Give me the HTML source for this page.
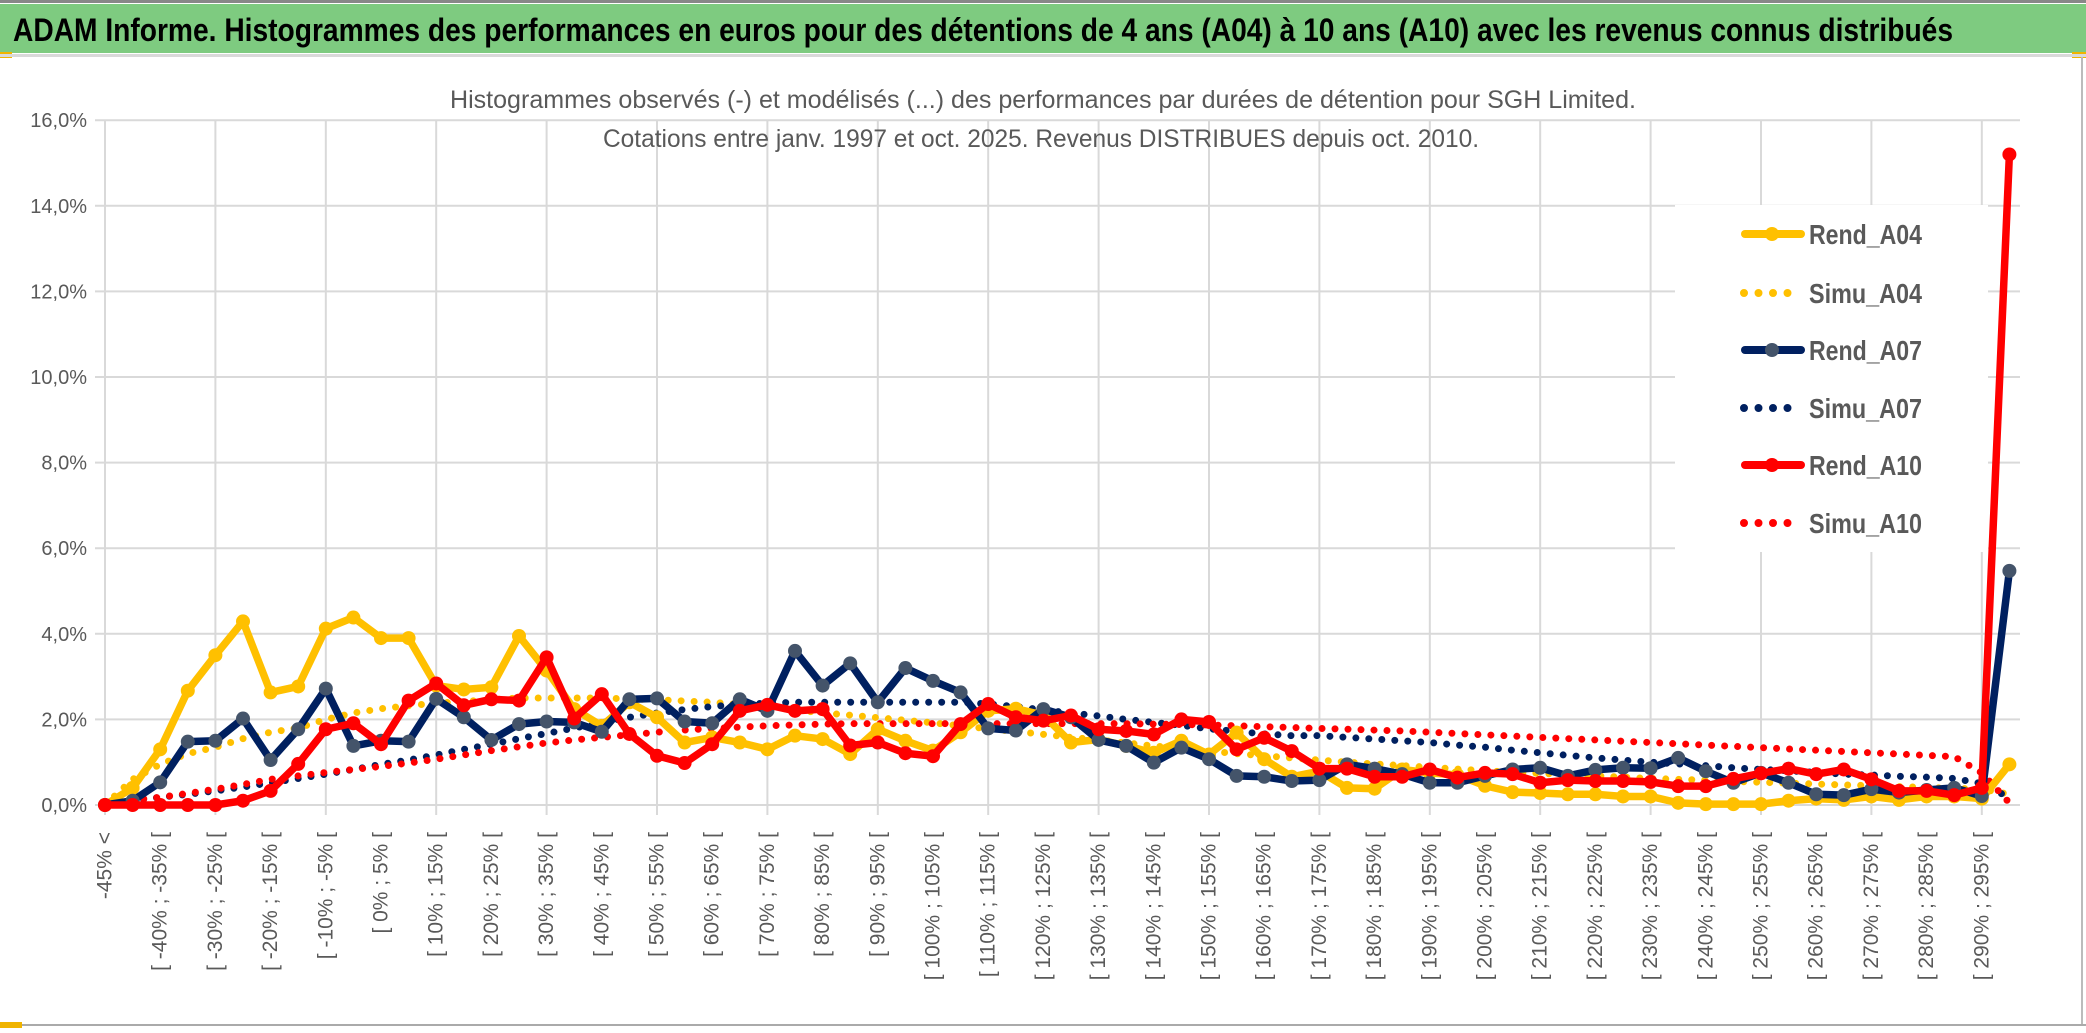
<!DOCTYPE html>
<html><head><meta charset="utf-8"><style>
html,body{margin:0;padding:0;background:#fff;}
svg{display:block;}
text{font-family:"Liberation Sans Narrow","Liberation Sans",sans-serif;}
</style></head><body>
<svg id="chart" width="2086" height="1033" viewBox="0 0 2086 1033" xmlns="http://www.w3.org/2000/svg">
<rect x="0" y="0" width="2086" height="1033" fill="#fff"/>
<rect x="0" y="0" width="2086" height="3" fill="#888"/>
<rect x="0" y="4" width="2086" height="49" fill="#7ECB80"/>
<rect x="0" y="52" width="12" height="6" fill="#F0B400"/>
<rect x="2072" y="52" width="14" height="6" fill="#F0B400"/>
<rect x="0" y="54" width="2086" height="3" fill="#d9d9d9"/>
<text x="13" y="41" font-size="32" font-weight="bold" fill="#000" textLength="1940" lengthAdjust="spacingAndGlyphs">ADAM Informe. Histogrammes des performances en euros pour des détentions de 4 ans (A04) à 10 ans (A10) avec les revenus connus distribués</text>
<rect x="2081" y="57" width="2" height="968" fill="#bbb"/>
<rect x="0" y="1024" width="2086" height="2" fill="#aaa"/>
<rect x="0" y="1022" width="22" height="6" fill="#F0B400"/>
<g id="grid"></g>
<g id="yaxis"></g>
<g id="xaxis"></g>
<rect x="1675" y="205" width="313" height="347" fill="#fff"/>
<text x="1043" y="108" text-anchor="middle" font-size="25" fill="#595959" textLength="1186" lengthAdjust="spacingAndGlyphs">Histogrammes observés (-) et modélisés (...) des performances par durées de détention pour SGH Limited.</text>
<text x="1041" y="147" text-anchor="middle" font-size="25" fill="#595959" textLength="876" lengthAdjust="spacingAndGlyphs">Cotations entre janv. 1997 et oct. 2025. Revenus DISTRIBUES depuis oct. 2010.</text>
<g id="series"></g>
<g id="legend"></g>
</svg>
<script>
const categories = [];
categories.push("-45% <");
for (let s = -45; s <= 295; s += 5) categories.push("[ " + s + "% ; " + (s + 5) + "% [");
const yTicks = [0, 2, 4, 6, 8, 10, 12, 14, 16];
const yTickLabels = ["0,0%", "2,0%", "4,0%", "6,0%", "8,0%", "10,0%", "12,0%", "14,0%", "16,0%"];
const rendA04 = [0,0.4,1.3,2.67,3.5,4.29,2.63,2.77,4.12,4.38,3.9,3.9,2.79,2.7,2.75,3.95,3.14,2.24,1.85,2.4,2.05,1.46,1.58,1.46,1.3,1.62,1.54,1.19,1.77,1.5,1.27,1.7,2.2,2.25,2.1,1.46,1.53,1.38,1.22,1.5,1.18,1.69,1.07,0.66,0.79,0.4,0.38,0.83,0.75,0.7,0.45,0.3,0.28,0.25,0.25,0.2,0.2,0.05,0.02,0.02,0.02,0.1,0.15,0.12,0.2,0.12,0.2,0.2,0.15,0.95];
const simuA04 = [0,0.6,0.95,1.2,1.35,1.55,1.7,1.8,2.0,2.15,2.25,2.32,2.38,2.42,2.46,2.5,2.5,2.5,2.5,2.48,2.46,2.43,2.4,2.35,2.3,2.22,2.15,2.1,2.04,1.98,1.92,1.85,1.78,1.72,1.65,1.58,1.52,1.45,1.38,1.32,1.26,1.2,1.15,1.1,1.05,1.0,0.96,0.92,0.88,0.84,0.8,0.77,0.74,0.71,0.68,0.65,0.62,0.6,0.58,0.55,0.53,0.51,0.49,0.47,0.45,0.43,0.41,0.39,0.37,0.25];
const rendA07 = [0,0.1,0.53,1.48,1.5,2.02,1.05,1.77,2.72,1.38,1.5,1.48,2.48,2.05,1.52,1.89,1.95,1.93,1.71,2.47,2.49,1.95,1.91,2.47,2.2,3.6,2.79,3.31,2.4,3.2,2.9,2.63,1.79,1.74,2.24,2.05,1.52,1.38,0.99,1.34,1.07,0.68,0.66,0.56,0.58,0.95,0.85,0.72,0.52,0.52,0.68,0.83,0.87,0.68,0.82,0.87,0.86,1.1,0.79,0.52,0.75,0.52,0.25,0.23,0.37,0.29,0.35,0.4,0.21,5.47];
const simuA07 = [0,0.1,0.18,0.25,0.33,0.42,0.52,0.62,0.72,0.83,0.95,1.05,1.17,1.3,1.42,1.55,1.67,1.8,1.92,2.05,2.15,2.23,2.3,2.35,2.38,2.4,2.4,2.4,2.4,2.4,2.4,2.4,2.36,2.3,2.22,2.15,2.08,2.0,1.93,1.86,1.78,1.72,1.66,1.62,1.62,1.58,1.54,1.5,1.46,1.4,1.35,1.28,1.22,1.16,1.1,1.05,1.0,0.96,0.92,0.87,0.83,0.8,0.76,0.72,0.7,0.67,0.65,0.62,0.5,0.17];
const rendA10 = [0,0,0,0,0,0.1,0.33,0.96,1.77,1.91,1.42,2.44,2.84,2.33,2.47,2.44,3.45,2.02,2.59,1.66,1.15,0.98,1.42,2.2,2.34,2.2,2.24,1.39,1.46,1.21,1.14,1.89,2.36,2.05,1.97,2.09,1.77,1.73,1.65,2.0,1.94,1.3,1.57,1.26,0.85,0.85,0.66,0.66,0.83,0.64,0.75,0.72,0.52,0.58,0.56,0.56,0.54,0.44,0.44,0.61,0.74,0.85,0.72,0.83,0.6,0.33,0.33,0.23,0.4,15.2];
const simuA10 = [0.05,0.12,0.18,0.27,0.37,0.48,0.6,0.68,0.76,0.83,0.9,0.98,1.07,1.17,1.27,1.36,1.45,1.52,1.58,1.64,1.7,1.75,1.79,1.82,1.85,1.87,1.89,1.9,1.9,1.9,1.9,1.9,1.9,1.9,1.9,1.9,1.9,1.9,1.89,1.88,1.87,1.85,1.83,1.81,1.79,1.77,1.75,1.73,1.7,1.67,1.64,1.61,1.58,1.55,1.52,1.49,1.46,1.43,1.4,1.37,1.34,1.31,1.28,1.25,1.22,1.19,1.16,1.13,0.75,0.05];
const seriesNames = ["Rend_A04","Simu_A04","Rend_A07","Simu_A07","Rend_A10","Simu_A10"];

const NS = "http://www.w3.org/2000/svg";
const X0 = 105, DX = 27.6, Y0 = 805, PXPCT = 42.8, PLOT_RIGHT = 2020, PLOT_TOP = 120;
function xPos(i){ return X0 + i * DX; }
function yPos(v){ return Y0 - v * PXPCT; }
function mk(tag, attrs, parent){ const e = document.createElementNS(NS, tag); for (const k in attrs) e.setAttribute(k, attrs[k]); parent.appendChild(e); return e; }

const grid = document.getElementById("grid");
yTicks.forEach(function(t){
  const l = mk("line", {x1: X0 - 10, x2: PLOT_RIGHT, y1: yPos(t), y2: yPos(t), stroke: "#d9d9d9", "stroke-width": 2}, grid);
  
  
});
for (let i = 0; i < categories.length; i += 4) {
  const l = mk("line", {x1: xPos(i), x2: xPos(i), y1: PLOT_TOP, y2: Y0 + 10, stroke: "#d9d9d9", "stroke-width": 2}, grid);
  
  
}
const yaxis = document.getElementById("yaxis");
yTicks.forEach(function(t, k){
  const tx = mk("text", {x: 87, y: yPos(t) + 7, "text-anchor": "end", "font-size": 20, fill: "#595959"}, yaxis);
  tx.textContent = yTickLabels[k];
  
  
});
const xaxis = document.getElementById("xaxis");
categories.forEach(function(c, i){
  if (i % 2 !== 0) return;
  const x = xPos(i);
  const tx = mk("text", {x: x, y: 832, "text-anchor": "end", "dominant-baseline": "central", "font-size": 21, fill: "#595959", transform: "rotate(-90 " + x + " 832)"}, xaxis);
  tx.textContent = c;
  
  
});

const seriesG = document.getElementById("series");
function drawSimu(vals, color, name){
  const pts = vals.map(function(v, i){ return xPos(i) + "," + yPos(v); }).join(" ");
  const p = mk("polyline", {points: pts, fill: "none", stroke: color, "stroke-width": 7, "stroke-linecap": "round", "stroke-dasharray": "0 13"}, seriesG);
  
  
}
function drawRend(vals, color, marker, name){
  const g = mk("g", {}, seriesG);
  
  
  const pts = vals.map(function(v, i){ return xPos(i) + "," + yPos(v); }).join(" ");
  mk("polyline", {points: pts, fill: "none", stroke: color, "stroke-width": 7.5, "stroke-linejoin": "round"}, g);
  vals.forEach(function(v, i){
    const c = mk("circle", {cx: xPos(i), cy: yPos(v), r: 7, fill: marker}, g);
    
    
  });
}
drawSimu(simuA04, "#FFC000", "simu-a04-line");
drawSimu(simuA07, "#002060", "simu-a07-line");
drawSimu(simuA10, "#FF0000", "simu-a10-line");
drawRend(rendA04, "#FFC000", "#FFC000", "rend-a04-line");
drawRend(rendA07, "#002060", "#44546A", "rend-a07-line");
drawRend(rendA10, "#FF0000", "#FF0000", "rend-a10-line");

const legend = document.getElementById("legend");
const legendColors = ["#FFC000","#FFC000","#002060","#002060","#FF0000","#FF0000"];
const legendMarkers = ["#FFC000","","#44546A","","#FF0000",""];
const legendY = [234, 293, 350, 408, 465, 523];
seriesNames.forEach(function(n, k){
  const g = mk("g", {}, legend);
  
  
  const y = legendY[k];
  if (k % 2 === 0) {
    mk("line", {x1: 1745, x2: 1801, y1: y, y2: y, stroke: legendColors[k], "stroke-width": 8, "stroke-linecap": "round"}, g);
    mk("circle", {cx: 1772, cy: y, r: 7, fill: legendMarkers[k]}, g);
  } else {
    mk("line", {x1: 1744, x2: 1800, y1: y, y2: y, stroke: legendColors[k], "stroke-width": 8, "stroke-linecap": "round", "stroke-dasharray": "0 14.5"}, g);
  }
  const t = mk("text", {x: 1809, y: y + 10, "font-size": 28, "font-weight": "bold", fill: "#595959", textLength: 113, lengthAdjust: "spacingAndGlyphs"}, g);
  t.textContent = n;
});
</script>
</body></html>
